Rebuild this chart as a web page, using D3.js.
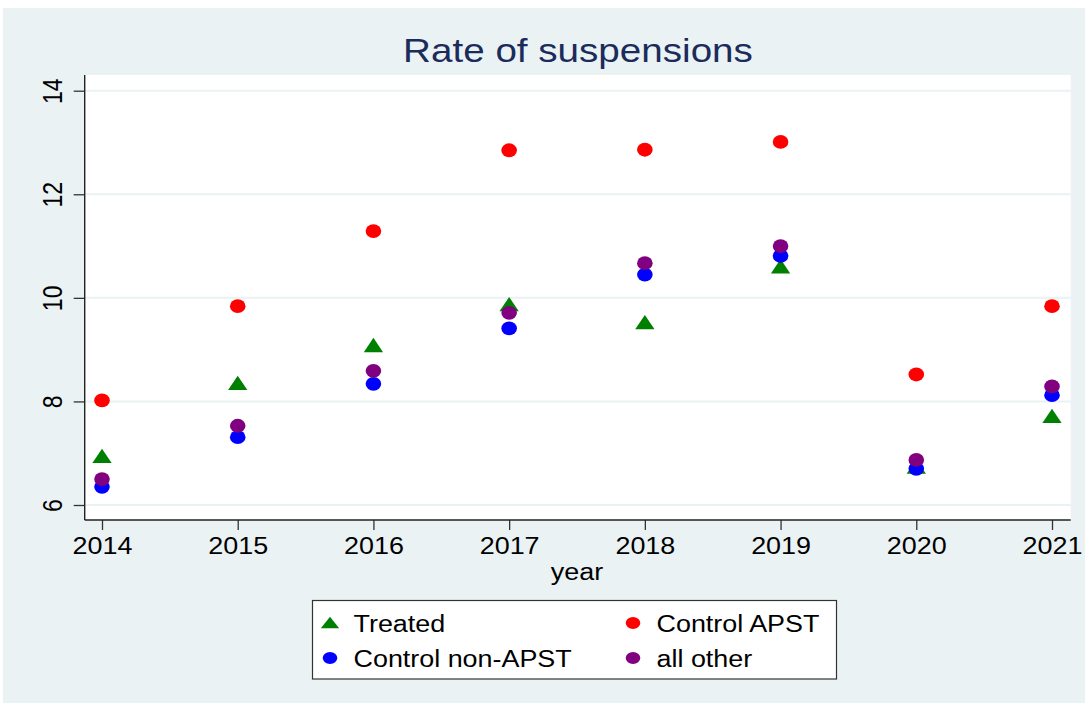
<!DOCTYPE html>
<html>
<head>
<meta charset="utf-8">
<script src="https://cdn.jsdelivr.net/npm/d3@7/dist/d3.min.js"></script>
<style>
  html, body { margin: 0; padding: 0; background: #ffffff; }
  svg { display: block; }
  text { font-family: "Liberation Sans", Arial, Helvetica, sans-serif; }
</style>
</head>
<body>
<svg id="chart" width="1089" height="709"></svg>
<script>
// ---- data ----
const years = [2014, 2015, 2016, 2017, 2018, 2019, 2020, 2021];
const treated     = [6.95, 8.36, 9.09, 9.88, 9.53, 10.61, 6.74, 7.72];
const controlAPST = [8.02, 9.84, 11.29, 12.85, 12.86, 13.01, 8.52, 9.84];
const controlNon  = [6.35, 7.31, 8.34, 9.41, 10.45, 10.81, 6.70, 8.12];
const allOther    = [6.50, 7.53, 8.59, 9.71, 10.67, 11.00, 6.87, 8.29];
const yTicks = [6, 8, 10, 12, 14];
const xTicks = [2014, 2015, 2016, 2017, 2018, 2019, 2020, 2021];
const titleText = "Rate of suspensions";
const xTitle = "year";

const series = [
  { name: "Treated",          values: treated,     color: "#008000", shape: "triangle" },
  { name: "Control APST",     values: controlAPST, color: "#ff0000", shape: "circle" },
  { name: "Control non-APST", values: controlNon,  color: "#0000ff", shape: "circle" },
  { name: "all other",        values: allOther,    color: "#800080", shape: "circle" }
];

const SX = 1.17; // horizontal stretch of the original rendering

const svg = d3.select("#chart");

// outer background
svg.append("rect").attr("x", 3).attr("y", 8).attr("width", 1082).attr("height", 695)
  .attr("fill", "#eaf2f3");

const plot = { left: 84.7, right: 1070.7, top: 75, bottom: 520 };

svg.append("rect").attr("x", plot.left).attr("y", plot.top)
  .attr("width", plot.right - plot.left).attr("height", plot.bottom - plot.top)
  .attr("fill", "#ffffff");

const x = d3.scaleLinear().domain([2014, 2021]).range([102, 1052]);
const y = d3.scaleLinear().domain([6, 14]).range([505, 90.7]);

// gridlines
svg.append("g").selectAll("line").data(yTicks).join("line")
  .attr("x1", plot.left).attr("x2", plot.right)
  .attr("y1", d => y(d)).attr("y2", d => y(d))
  .attr("stroke", "#eaf2f3").attr("stroke-width", 2);

// title
svg.append("text")
  .attr("transform", `translate(578,61.7) scale(${SX},1)`)
  .attr("text-anchor", "middle")
  .attr("font-size", 33)
  .attr("fill", "#1a2b5c")
  .text(titleText);

// y axis
const yAxis = svg.append("g").attr("transform", `translate(${plot.left},0)`)
  .call(d3.axisLeft(y).tickValues(yTicks).tickSize(11).tickSizeOuter(0).tickFormat(d3.format("d")));
yAxis.select(".domain").remove();
yAxis.selectAll(".tick line").attr("stroke", "#333").attr("stroke-width", 1.3);
yAxis.selectAll(".tick text")
  .attr("x", null).attr("dy", null)
  .attr("transform", `translate(-23,0) scale(${SX},1) rotate(-90)`)
  .attr("text-anchor", "middle")
  .attr("font-size", 23)
  .attr("fill", "#000");

// x axis
const xAxis = svg.append("g").attr("transform", `translate(0,${plot.bottom})`)
  .call(d3.axisBottom(x).tickValues(xTicks).tickSize(10).tickSizeOuter(0).tickFormat(d3.format("d")));
xAxis.select(".domain").remove();
xAxis.selectAll(".tick line").attr("stroke", "#333").attr("stroke-width", 1.3);
xAxis.selectAll(".tick text")
  .attr("y", null).attr("dy", null)
  .attr("transform", `translate(0,34.3) scale(${SX},1)`)
  .attr("text-anchor", "middle")
  .attr("font-size", 23)
  .attr("fill", "#000");

// axis lines
svg.append("line").attr("x1", plot.left).attr("x2", plot.left)
  .attr("y1", plot.top).attr("y2", plot.bottom)
  .attr("stroke", "#222").attr("stroke-width", 1.4);
svg.append("line").attr("x1", plot.left).attr("x2", plot.right)
  .attr("y1", plot.bottom).attr("y2", plot.bottom)
  .attr("stroke", "#222").attr("stroke-width", 1.4);

// x title
svg.append("text")
  .attr("transform", `translate(577,580) scale(${SX},1)`)
  .attr("text-anchor", "middle")
  .attr("font-size", 23)
  .attr("fill", "#000")
  .text(xTitle);

function triPath(cx, cy, w, h) {
  return `M${cx},${cy - h / 2}L${cx + w / 2},${cy + h / 2}L${cx - w / 2},${cy + h / 2}Z`;
}

// markers
series.forEach(s => {
  const g = svg.append("g");
  const pts = years.map((yr, i) => ({ yr, v: s.values[i] }));
  if (s.shape === "triangle") {
    g.selectAll("path").data(pts).join("path")
      .attr("d", d => triPath(x(d.yr), y(d.v), 19.3, 14.3))
      .attr("fill", s.color);
  } else {
    g.selectAll("ellipse").data(pts).join("ellipse")
      .attr("cx", d => x(d.yr)).attr("cy", d => y(d.v))
      .attr("rx", 7.8).attr("ry", 6.9)
      .attr("fill", s.color);
  }
});

// legend
svg.append("rect").attr("x", 312.5).attr("y", 600.5).attr("width", 524).attr("height", 78.5)
  .attr("fill", "#ffffff").attr("stroke", "#333").attr("stroke-width", 1.2);

const legendPos = [
  { mx: 330, my: 622.5, tx: 353.5, ty: 631.7 },
  { mx: 633, my: 623,   tx: 656.5, ty: 631.7 },
  { mx: 330, my: 658,   tx: 353.5, ty: 666.5 },
  { mx: 633, my: 658,   tx: 656.5, ty: 666.5 }
];
const lg = svg.append("g");
series.forEach((s, i) => {
  const p = legendPos[i];
  if (s.shape === "triangle") {
    lg.append("path").attr("d", triPath(p.mx, p.my, 18.3, 11.5)).attr("fill", s.color);
  } else {
    lg.append("ellipse").attr("cx", p.mx).attr("cy", p.my)
      .attr("rx", 7.3).attr("ry", 5.9).attr("fill", s.color);
  }
  lg.append("text")
    .attr("transform", `translate(${p.tx},${p.ty}) scale(${SX},1)`)
    .attr("font-size", 23)
    .attr("fill", "#000")
    .text(s.name);
});
</script>
</body>
</html>
